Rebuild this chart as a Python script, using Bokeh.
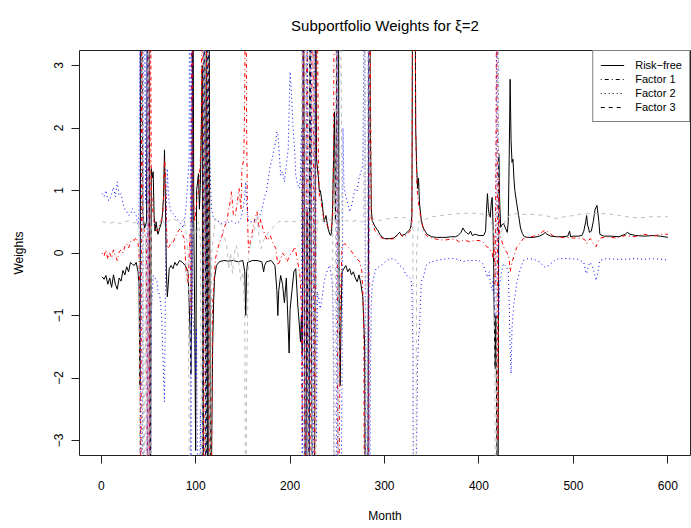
from bokeh.plotting import figure
from bokeh.models import Range1d, FixedTicker, Legend, LegendItem
from bokeh.embed import file_html
from bokeh.resources import INLINE

TITLE = "Subportfolio Weights for ξ=2"
X_LABEL = "Month"
Y_LABEL = "Weights"
series_names = ["Risk\u2212free", "Factor 1", "Factor 2", "Factor 3"]
x_ticks = [0, 100, 200, 300, 400, 500, 600]
y_ticks = [-3, -2, -1, 0, 1, 2, 3]

# (month, weight); +/-6 marks excursions beyond the visible range
risk_free = [(1,-0.38),(3,-0.42),(5,-0.36),(7,-0.5),(9,-0.4),(11,-0.55),(13,-0.35),(15,-0.5),(17,-0.58),(19,-0.4),
    (21,-0.45),(23,-0.28),(25,-0.35),(27,-0.22),(29,-0.3),(31,-0.15),(33,-0.18),(35,-0.2),(37,-0.15),(39,-0.3),
    (40,-0.5),(41,-2.12),(42,4.0),(43,6),(44,0.6),(46,0.4),(48,0.5),(49,4),(50,6),(51,2),(52,-6),(53,1.35),
    (54,1.2),(55,1.3),(56,0.6),(57,0.35),(58,0.5),(59,0.4),(60,0.3),(62,0.4),(64,0.5),(65,0.65),(66,0.9),
    (67,1.65),(68,0.8),(69,-0.3),(70,-0.7),(71,-0.5),(72,-0.25),(74,-0.2),(76,-0.25),(78,-0.15),(80,-0.2),
    (83,-0.12),(86,-0.15),(89,-0.2),(92,-0.3),(93,-0.78),(94,-1.2),(95,-1.93),(96,-0.5),(97,6),(98,0.5),
    (99,-1.0),(100,-3.16),(101,1.0),(103,1.27),(104,0.7),(105,1.1),(106,2.0),(107,3.0),(108,-6),(109,6),
    (110,2.2),(111,-6),(112,6),(113,-6),(114,6),(116,-6),(117,-3),(118,-1.5),(119,-0.8),(120,-0.4),(122,-0.2),
    (125,-0.14),(130,-0.12),(135,-0.13),(140,-0.12),(145,-0.14),(150,-0.12),(152,-0.3),(153,-1.0),(154,-0.3),
    (155,-0.15),(160,-0.12),(165,-0.12),(170,-0.14),(172,-0.3),(173,-0.2),(175,-0.14),(180,-0.12),(184,-0.2),
    (186,-0.6),(187,-1.0),(188,-0.6),(190,-0.36),(192,-0.5),(194,-0.8),(196,-0.4),(198,-1.2),(199,-1.6),
    (200,-0.9),(202,-0.6),(204,-0.3),(206,-0.25),(208,-0.8),(210,-1.2),(211,-1.42),(212,-1.0),(213,-1.65),
    (214,6),(216,-6),(218,0.7),(219,-2.9),(220,-6),(221,6),(222,0.9),(224,-6),(226,-3.0),(227,6),(228,1.5),
    (230,1.2),(231,0.98),(232,1.0),(234,0.8),(236,0.5),(238,0.6),(240,0.4),(242,0.3),(243,0.28),(244,0.35),
    (245,0.7),(246,1.5),(247,2.26),(248,0.5),(249,2),(250,6),(251,6),(252,-1),(253,-2.12),(254,-1.0),
    (255,-0.3),(257,-0.25),(259,-0.2),(261,-0.3),(263,-0.25),(265,-0.35),(267,-0.3),(269,-0.4),(271,-0.46),
    (273,-0.35),(275,-0.5),(277,-0.7),(279,-1.5),(280,-6),(282,-6),(284,6),(285,2),(286,0.7),(287,0.52),
    (289,0.45),(291,0.4),(293,0.36),(295,0.3),(297,0.26),(300,0.23),(305,0.23),(310,0.24),(314,0.3),
    (316,0.33),(318,0.28),(322,0.3),(325,0.35),(327,0.38),(328,0.44),(329,0.6),(330,6),(332,6),(333,2),
    (334,1.4),(335,1.03),(336,1.2),(337,0.8),(339,0.52),(341,0.4),(343,0.35),(345,0.3),(350,0.26),(355,0.25),
    (360,0.25),(365,0.25),(370,0.26),(375,0.26),(378,0.28),(381,0.33),(383,0.4),(385,0.35),(387,0.32),
    (389,0.3),(391,0.35),(393,0.28),(396,0.3),(400,0.28),(405,0.28),(407,0.35),(408,0.7),(409,0.95),
    (410,0.7),(411,0.6),(412,0.57),(413,0.8),(414,0.89),(415,0.41),(416,-0.8),(417,-1.85),(418,-1.0),
    (419,-3.3),(420,-6),(421,1.59),(422,0.8),(423,0.41),(424,0.45),(426,0.47),(428,0.4),(430,0.33),(431,0.5),
    (432,1.5),(433,2.78),(434,1.8),(435,1.45),(436,1.5),(437,1.2),(438,1.0),(440,0.79),(442,0.6),(444,0.4),
    (446,0.31),(448,0.26),(452,0.25),(458,0.25),(464,0.27),(468,0.3),(470,0.33),(472,0.3),(476,0.27),
    (482,0.26),(488,0.26),(494,0.27),(496,0.35),(497,0.26),(500,0.27),(505,0.27),(509,0.28),(511,0.35),
    (513,0.5),(514,0.6),(515,0.45),(516,0.4),(517,0.33),(519,0.35),(521,0.5),(523,0.7),(525,0.76),(527,0.5),
    (528,0.3),(532,0.27),(540,0.27),(548,0.26),(555,0.3),(557,0.33),(560,0.3),(566,0.28),(575,0.27),
    (585,0.28),(592,0.27),(600,0.25)]

factor_1 = [(1,0.0),(3,-0.05),(5,0.05),(7,-0.1),(9,0.0),(11,-0.08),(13,0.05),(15,-0.05),(17,-0.12),(19,0.02),
    (21,0.05),(23,0.0),(25,0.1),(27,0.15),(29,0.08),(31,0.18),(33,0.22),(35,0.2),(37,0.25),(39,0.15),(40,0.0),
    (41,-1.0),(42,-6),(43,6),(44,0.5),(46,0.3),(48,0.2),(49,-6),(50,6),(51,-6),(52,6),(53,1.1),(54,0.8),
    (55,0.6),(57,0.4),(59,0.35),(61,0.4),(63,0.5),(65,0.6),(66,0.9),(67,1.5),(68,1.3),(69,0.5),(70,0.07),
    (72,0.1),(74,0.18),(76,0.15),(78,0.25),(80,0.3),(82,0.36),(84,0.39),(86,0.3),(88,0.23),(90,-0.3),
    (92,-0.5),(94,0.3),(95,-1.0),(96,6),(97,1.0),(99,0.5),(101,0.8),(103,1.0),(105,1.5),(106,2.0),(107,6),
    (109,-6),(111,2),(113,6),(115,-6),(116,-6),
    (117,-3),(118,-0.8),(120,-0.3),(121,-0.09),(123,0.05),(125,0.15),(128,0.28),(130,0.4),(133,0.5),
    (135,0.7),(137,0.85),(138,0.98),(140,0.6),(142,0.6),(144,0.8),(146,1.03),(148,0.7),(149,1.35),(151,1.5),
    (152,2.5),(153,6),(154,2),(155,0.5),(156,0.0),(158,0.2),(160,0.34),(162,0.5),(165,0.66),(167,0.4),
    (169,0.55),(171,0.4),(173,0.3),(176,0.2),(179,0.28),(182,0.15),(185,0.07),(187,-0.2),(190,-0.1),
    (192,0.0),(194,-0.04),(196,-0.1),(197,-0.14),(199,-0.05),(202,0.0),(205,0.1),(207,-0.05),(208,-0.14),
    (210,-0.3),(211,-0.45),(212,-1.0),(213,-3),(214,6),(216,-6),(218,6),(220,-6),(222,-1.5),(224,6),(226,-6),
    (228,6),(230,1.5),(231,0.9),(233,0.8),(235,0.6),(237,0.5),(239,0.45),(241,0.4),(243,0.36),(245,0.5),
    (246,1.5),(247,6),(249,6),(251,-6),(253,-1.0),(255,0.12),(258,0.15),(261,0.1),(264,0.05),(268,-0.04),
    (271,-0.1),(274,-0.14),(276,-0.3),(278,-1.0),(279,-6),(283,-6),(284,6),(285,3),(286,0.6),(288,0.45),
    (290,0.35),(293,0.3),(296,0.25),(300,0.22),(305,0.22),(310,0.23),(314,0.28),(317,0.3),(320,0.25),
    (324,0.3),(327,0.35),(329,0.45),(330,6),(332,6),(333,2),(334,1.2),(335,0.9),(337,0.7),(339,0.5),
    (341,0.4),(343,0.3),(346,0.26),(350,0.24),(355,0.22),(360,0.21),(365,0.21),(370,0.22),(375,0.22),
    (380,0.17),(383,0.2),(386,0.2),(390,0.18),(395,0.2),(400,0.2),(404,0.18),(406,0.15),(408,0.1),(410,0.09),
    (412,0.05),(414,0.0),(415,-0.1),(416,0.3),(417,-0.5),(418,1.5),(419,6),(420,-3),(421,1.2),(422,0.3),
    (424,0.2),(426,0.1),(428,0.04),(430,0.0),(432,-0.1),(433,-0.3),(435,-0.15),(437,-0.05),(440,0.09),
    (443,0.15),(447,0.23),(452,0.25),(458,0.27),(464,0.3),(468,0.35),(470,0.36),(474,0.33),(478,0.28),
    (485,0.25),(492,0.25),(500,0.24),(506,0.24),(510,0.23),(513,0.2),(514,0.15),(516,0.2),(518,0.23),
    (521,0.15),(524,0.1),(526,0.18),(529,0.24),(535,0.26),(545,0.24),(555,0.28),(565,0.26),(575,0.3),
    (585,0.27),(592,0.3),(600,0.3)]

factor_2 = [(1,0.95),(3,0.9),(5,1.0),(7,0.85),(9,0.84),(11,0.95),(13,1.05),(15,0.9),(17,1.14),(19,0.92),
    (21,0.95),(23,0.8),(25,0.7),(27,0.66),(29,0.6),(31,0.62),(33,0.71),(35,0.65),(37,0.6),(39,0.45),(40,0.6),
    (41,4),(42,-6),(43,-6),(44,-2),(45,6),(47,0.8),(48,6),(49,-6),(50,6),(51,-6),(52,-6),(53,-1.0),
    (55,-0.36),(57,-0.4),(59,-0.45),(60,-0.6),(62,-0.68),(64,-1.0),(65,-1.5),(66,-2.0),(67,-2.38),(68,-0.5),
    (69,0.8),(70,1.35),(71,1.0),(72,0.8),(74,0.65),(76,0.63),(78,0.6),(80,0.55),(82,0.52),(85,0.45),(87,0.4),
    (89,0.6),(91,1.0),(93,1.5),(94,6),(95,-6),(96,6),(97,-1.0),(99,-1.5),(100,-2),(101,-1.2),(103,-6),
    (105,-2.5),(107,-6),(109,6),(111,-6),(113,6),(114,2),(115,1.5),(116,1.0),(117,0.7),(119,0.55),
    (122,0.52),(125,0.5),(128,0.47),(131,0.5),(134,0.48),
    (137,0.52),(140,0.5),(143,0.47),(146,0.5),(148,0.55),(150,0.7),(152,0.9),(153,1.14),(154,0.8),(156,0.5),
    (159,0.5),(162,0.52),(165,0.55),(168,0.6),(171,0.75),(173,0.9),(175,0.98),(177,1.2),(179,1.4),(181,1.5),
    (183,1.67),(185,1.8),(186,1.94),(187,1.91),(189,1.5),(190,1.24),(192,1.3),(194,1.14),(196,1.4),
    (198,1.67),(199,2.3),(200,2.9),(202,2.4),(203,2.03),(205,1.6),(206,1.24),(208,1.1),(210,1.03),(211,1.2),
    (212,2),(213,-6),(214,6),(216,-6),(217,-2.5),(218,6),(220,-6),(222,6),(224,-6),(226,6),(228,-3),
    (229,-0.62),(231,-0.8),(232,-0.89),(234,-0.7),(236,-0.46),(238,-0.35),(240,-0.25),(242,-0.2),(244,-0.4),
    (245,-0.57),(246,-1.5),(247,-6),(249,-6),(250,6),(251,-6),(253,-6),(255,-2),(256,2),(257,1.08),(259,0.9),
    (261,0.8),(263,0.66),(265,0.75),(267,0.9),(269,1.03),(271,1.0),(273,1.19),(275,1.3),(277,1.4),(278,3),
    (279,6),(280,-6),(282,-6),(283,6),(284,-6),(285,-2),(286,-0.8),(287,-0.5),(289,-0.36),(291,-0.25),
    (294,-0.22),(298,-0.18),(302,-0.12),(307,-0.09),(311,-0.1),(316,-0.2),(320,-0.25),(323,-0.36),
    (326,-0.38),(328,-0.41),(329,-0.6),(330,-1.5),(331,-6),(333,-6),(334,-3),(335,-1.8),(336,-1.37),
    (337,-1.2),(339,-0.45),(341,-0.4),(344,-0.2),(348,-0.15),(355,-0.12),(362,-0.1),(368,-0.09),(373,-0.09),
    (378,-0.1),(383,-0.14),(388,-0.12),(394,-0.12),(400,-0.12),(404,-0.17),(407,-0.3),(409,-0.39),
    (411,-0.3),(412,-0.49),(414,-0.6),(415,-0.4),(416,-0.8),(417,-1.0),(418,-1.03),(419,6),(420,6),
    (421,-1.0),(422,-0.5),(424,-0.3),(426,-0.17),(428,-0.2),(431,-0.28),(432,-0.8),(433,-1.5),(434,-1.93),
    (435,-1.2),(437,-0.8),(440,-0.49),(443,-0.3),(447,-0.12),(452,-0.09),(458,-0.1),(464,-0.14),(468,-0.2),
    (470,-0.23),(474,-0.2),(480,-0.12),(484,-0.09),(494,-0.09),(505,-0.1),(511,-0.15),(513,-0.3),
    (514,-0.33),(516,-0.2),(518,-0.15),(521,-0.25),(524,-0.44),(526,-0.3),(528,-0.12),(535,-0.09),
    (545,-0.1),(555,-0.1),(565,-0.09),(575,-0.1),(585,-0.09),(592,-0.1),(600,-0.11)]

factor_3 = [(1,0.5),(5,0.49),(10,0.48),(15,0.5),(20,0.47),(25,0.5),(30,0.52),(35,0.48),(38,0.5),(40,0.4),
    (41,-6),(43,-6),(44,6),(45,-6),(47,0.3),(48,-6),(50,6),(51,-6),(52,-6),(53,0.4),(55,0.5),(58,0.45),
    (62,0.5),(65,0.55),(67,0.45),(70,0.5),(75,0.55),(80,0.52),(85,0.5),(88,0.55),(90,0.3),(92,0.0),(94,-6),
    (95,0.5),(97,0.3),(99,0.4),(101,0.3),(103,0.5),(105,0.2),(107,-6),(109,6),(111,-6),(113,6),(115,-6),
    (117,0.0),(119,0.3),(121,0.55),(124,0.5),(127,0.45),(130,0.3),(133,0.1),(135,-0.25),(137,0.0),
    (139,-0.33),(141,0.0),(143,0.12),(145,-0.04),(148,-0.45),(150,-0.3),(152,-1.0),(153,-6),(154,-2),
    (156,0.0),(159,0.18),(162,0.35),(165,0.6),(167,0.3),(169,0.07),(172,0.2),(175,0.28),(178,0.35),
    (181,0.39),(184,0.45),(188,0.5),(192,0.52),(196,0.5),(200,0.52),(205,0.5),(210,0.52),(212,0.5),(213,6),
    (215,-6),(217,6),(219,-6),(221,6),(223,-6),(225,6),(227,-6),(228,0.3),(230,0.55),(235,0.52),(240,0.55),
    (245,0.5),(247,-6),(249,6),(251,-6),(253,6),(255,0.5),(260,0.52),(265,0.5),(270,0.52),(275,0.5),
    (278,0.5),(279,6),(281,-6),(283,6),(285,0.5),(290,0.55),(295,0.52),(300,0.54),(305,0.55),(310,0.56),
    (315,0.57),(320,0.57),(325,0.55),(328,0.5),(330,0.45),(331,-6),(333,-6),(334,0.0),(336,0.5),(340,0.52),
    (345,0.55),(350,0.58),(360,0.6),(370,0.62),(380,0.63),(390,0.64),(400,0.63),(407,0.62),(412,0.57),
    (414,0.45),(416,0.3),(418,-6),(420,6),(421,0.2),(424,0.35),(428,0.52),(432,0.6),(436,0.63),(445,0.62),
    (455,0.62),(470,0.6),(480,0.56),(484,0.55),(490,0.58),(500,0.6),(510,0.63),(520,0.63),(535,0.63),
    (550,0.6),(560,0.57),(570,0.56),(580,0.58),(590,0.58),(600,0.58)]

all_series = [risk_free, factor_1, factor_2, factor_3]
line_colors = ["#000000", "#FF0000", "#0000FF", "#BEBEBE"]
line_dashes = ["solid", "1 3 4 3", "1 3", "4 4"]

FONT = "Liberation Sans"

p = figure(width=691, height=528, output_backend="svg", toolbar_location=None,
           x_range=Range1d(-23, 624), y_range=Range1d(-3.24, 3.24),
           min_border_left=79, min_border_right=1, min_border_top=50, min_border_bottom=73,
           title=TITLE)
p.background_fill_color = "white"
p.border_fill_color = "white"
p.outline_line_color = "#222222"
p.outline_line_width = 1
p.grid.visible = False

p.title.align = "center"
p.title.vertical_align = "top"
p.title.standoff = 30
p.title.text_font = FONT
p.title.text_font_size = "15px"
p.title.text_font_style = "normal"
p.title.text_color = "black"

for pts, col, dash in zip(all_series, line_colors, line_dashes):
    xs = [m for m, _ in pts]
    ys = [v for _, v in pts]
    p.line(xs, ys, line_color=col, line_dash=dash, line_width=1)

for ax in (p.xaxis[0], p.yaxis[0]):
    ax.axis_line_color = None
    ax.major_tick_line_color = "#222222"
    ax.major_tick_in = 0
    ax.major_tick_out = 8
    ax.minor_tick_line_color = None
    ax.major_label_text_font = FONT
    ax.major_label_text_font_size = "12px"
    ax.major_label_text_color = "black"
    ax.axis_label_text_font = FONT
    ax.axis_label_text_font_size = "12px"
    ax.axis_label_text_font_style = "normal"
    ax.axis_label_text_color = "black"

p.xaxis.ticker = FixedTicker(ticks=x_ticks)
p.xaxis.axis_label = X_LABEL
p.xaxis.major_label_standoff = 17
p.xaxis.axis_label_standoff = 16

p.yaxis.ticker = FixedTicker(ticks=y_ticks)
p.yaxis.major_label_overrides = {t: (("\u2212" + str(-t)) if t < 0 else str(t)) for t in y_ticks}
p.yaxis.major_label_orientation = "vertical"
p.yaxis.axis_label = Y_LABEL
p.yaxis.major_label_standoff = 9
p.yaxis.axis_label_standoff = 25

# legend keys: black lines in each series' dash style (no visible data of their own)
legend_items = []
for name, pts, dash in zip(series_names, all_series, line_dashes):
    xs = [m for m, _ in pts]
    r = p.line(xs, [float("nan")] * len(xs), line_color="black", line_dash=dash, line_width=1)
    legend_items.append(LegendItem(label=name, renderers=[r]))

legend = Legend(items=legend_items, location="top_right", margin=0, padding=7,
                spacing=0, glyph_width=24, glyph_height=14, label_height=14,
                label_standoff=11, label_text_font=FONT, label_text_font_size="11px",
                label_text_color="black",
                border_line_color="black", border_line_width=1,
                background_fill_color="white", background_fill_alpha=1.0)
p.add_layout(legend)

open("out.html", "w").write(file_html(p, INLINE))
